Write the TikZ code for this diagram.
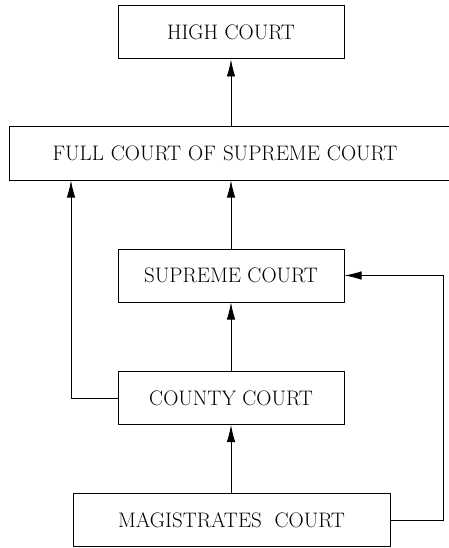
\documentclass[tikz,border=0pt]{standalone}
\usetikzlibrary{arrows.meta}

\begin{document}
\begin{tikzpicture}[x=1pt, y=-1pt,
    court/.style={draw, line width=1pt, minimum height=53pt, inner sep=0pt,
                  font=\fontsize{21}{24}\selectfont},
    appeal/.style={line width=0.9pt, -{Latex[length=17pt, width=8.5pt]}}]
    \useasboundingbox (0,0) rectangle (449,548);

    \node[court, minimum width=226pt] (high) at (231,32.5) {HIGH COURT};
    \node[court, anchor=west, text width=366pt, inner xsep=43pt, align=left] (full) at (9,153.5) {FULL COURT OF SUPREME COURT};
    \node[court, minimum width=226pt] (supreme) at (231,275.5) {SUPREME COURT};
    \node[court, minimum width=226pt] (county) at (231,398) {COUNTY COURT};
    \node[court, minimum width=317pt] (magis) at (231.5,520) {MAGISTRATES\ \ COURT};

    \coordinate (leftbend) at (71,398);
    \coordinate (rightbend) at (443,520);

    \draw[appeal] (high.south |- full.north) -- (high.south);
    \draw[appeal] (supreme.north) -- (supreme.north |- full.south);
    \draw[appeal] (county.north) -- (supreme.south);
    \draw[appeal] (magis.north -| county.south) -- (county.south);
    \draw[appeal] (county.west) -- (leftbend) -- (leftbend |- full.south);
    \draw[appeal] (magis.east) -- (rightbend) -- (rightbend |- supreme.east) -- (supreme.east);
\end{tikzpicture}
\end{document}
